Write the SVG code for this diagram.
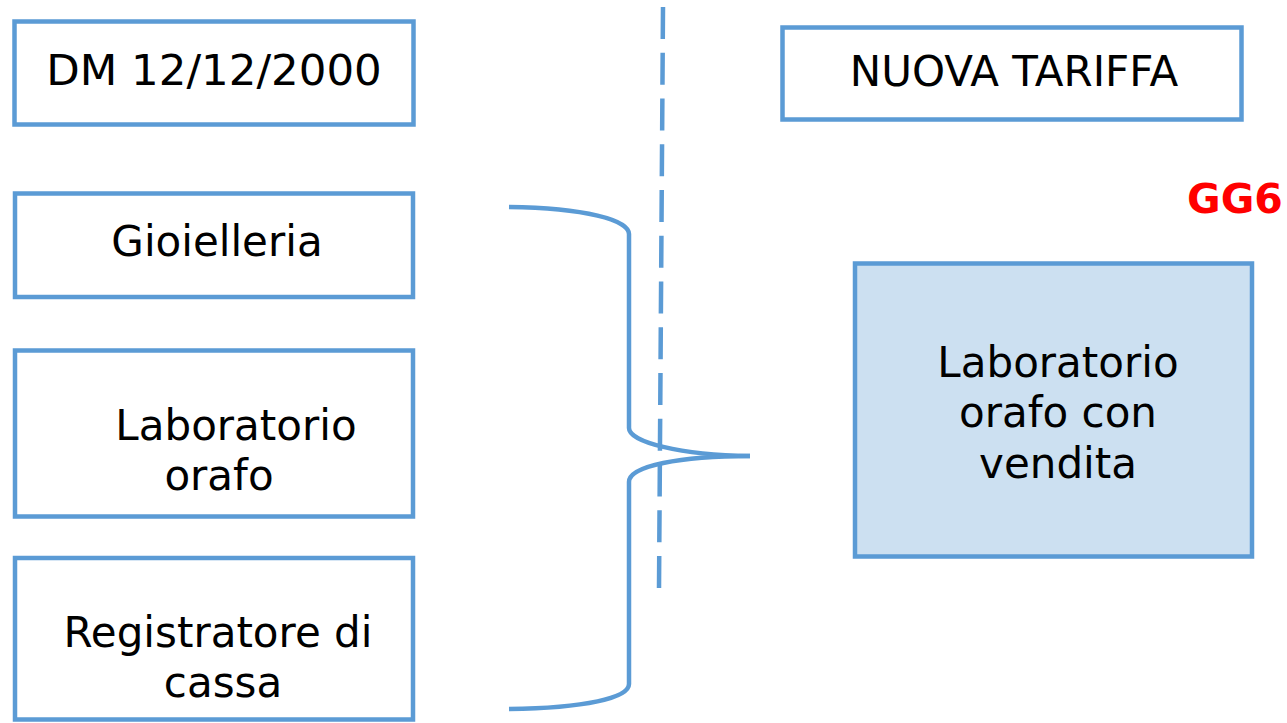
<svg xmlns="http://www.w3.org/2000/svg" width="1287" height="723" viewBox="0 0 1287 723">
<style>
.box{fill:#ffffff;stroke:#5B9BD5;stroke-width:4.5}
.fill{fill:#CCE0F1;stroke:#5B9BD5;stroke-width:4.5}
.t{font-family:"DejaVu Sans",Verdana,sans-serif;font-size:42px;fill:#000;text-anchor:middle}
.red{font-family:"DejaVu Sans",Verdana,sans-serif;font-size:41px;font-weight:bold;fill:#FF0000}
.ln{fill:none;stroke:#5B9BD5;stroke-width:4.5}
</style>
<rect width="1287" height="723" fill="#ffffff"/>
<g id="connectors">
<line class="ln" x1="663" y1="7" x2="659" y2="588" stroke-dasharray="32 13.75"/>
<path class="ln" d="M509,207 C585,208 629,220 629,234 L629,428 C629,442 680,455 750,456"/>
<path class="ln" d="M750,456 C680,456 629,466 629,482 L629,684 C629,698 585,708 509,709"/>
</g>
<g id="dm">
<rect class="box" x="14.5" y="21.5" width="399" height="103"/>
<text class="t" x="214" y="85" style="font-size:43.5px">DM 12/12/2000</text>
</g>
<g id="nuova">
<rect class="box" x="782.5" y="27.5" width="459" height="92"/>
<text class="t" x="1014" y="86">NUOVA TARIFFA</text>
</g>
<g id="gioielleria">
<rect class="box" x="15" y="193.5" width="398" height="103.5"/>
<text class="t" x="217" y="256">Gioielleria</text>
</g>
<g id="laboratorio">
<rect class="box" x="15" y="350.5" width="398" height="166"/>
<text class="t" x="236" y="440">Laboratorio</text>
<text class="t" x="219" y="490">orafo</text>
</g>
<g id="registratore">
<rect class="box" x="15" y="558" width="398" height="161.5"/>
<text class="t" x="218" y="647">Registratore di</text>
<text class="t" x="223" y="697">cassa</text>
</g>
<g id="gg6">
<text class="red" x="1187" y="213">GG6</text>
</g>
<g id="vendita">
<rect class="fill" x="855" y="263.5" width="397" height="293"/>
<text class="t" x="1058" y="377">Laboratorio</text>
<text class="t" x="1058" y="427">orafo con</text>
<text class="t" x="1058" y="478">vendita</text>
</g>
</svg>
